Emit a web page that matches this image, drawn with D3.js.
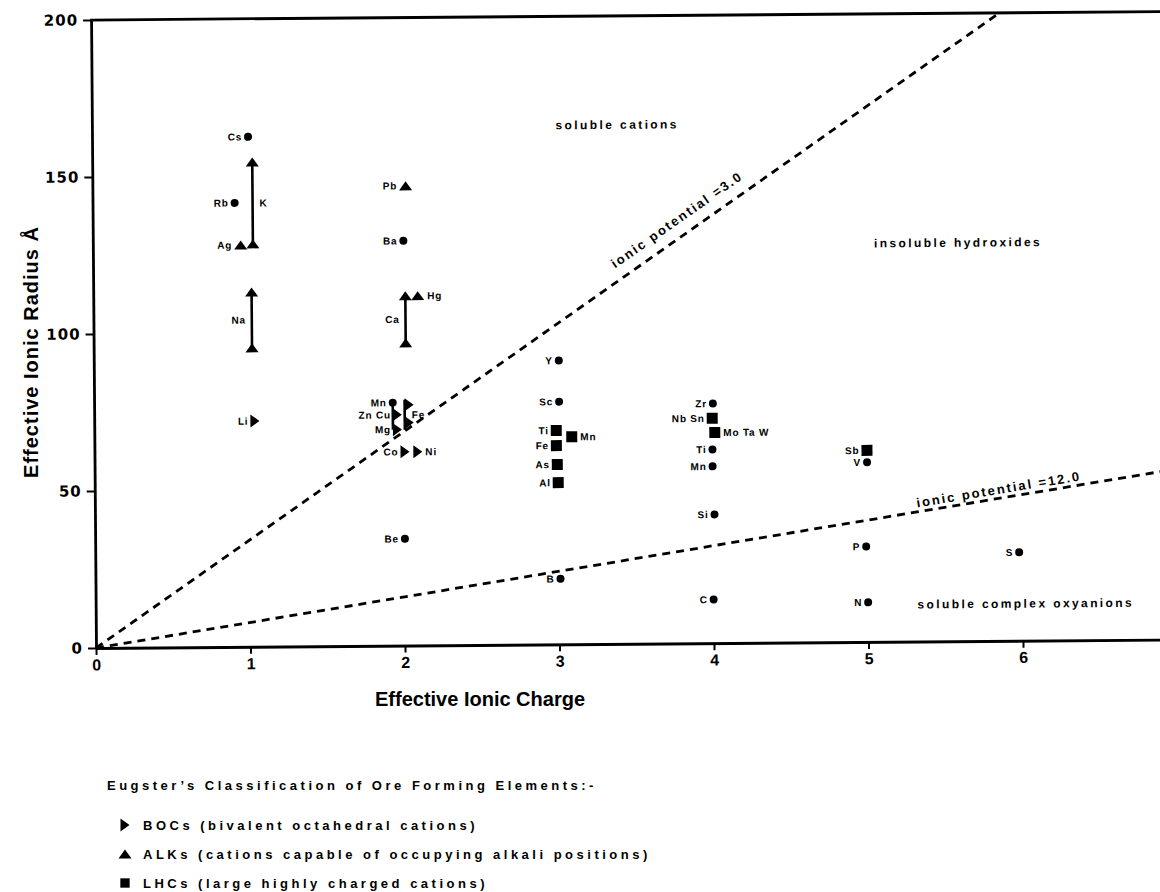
<!DOCTYPE html>
<html>
<head>
<meta charset="utf-8">
<script src="https://cdn.jsdelivr.net/npm/d3@7/dist/d3.min.js"></script>
<style>
  body { margin: 0; background: #fff; }
  svg { display: block; font-family: "Liberation Sans", Arial, sans-serif; font-weight: bold; }
  .el { font-size: 10px; letter-spacing: 0.8px; }
  .region { font-size: 12px; letter-spacing: 2.4px; }
  .ip-label { font-size: 13px; letter-spacing: 2px; }
  .ip { fill: none; stroke: #000; stroke-width: 2.8; stroke-dasharray: 8 6; }
  .axis .domain { stroke: #000; stroke-width: 2.8; }
  .axis .tick line { stroke: #000; stroke-width: 2; }
  .axis-y text { font-family: "DejaVu Sans", sans-serif; font-weight: bold; font-size: 15px; letter-spacing: 1px; }
  .axis-x text { font-family: "Liberation Sans", Arial, sans-serif; font-weight: bold; font-size: 16px; }
  .title { font-size: 20px; }
  .legend { font-size: 13px; letter-spacing: 3.5px; }
</style>
</head>
<body>
<svg id="chart" width="1160" height="892"></svg>
<script>
// ticks
const xTicks = [0, 1, 2, 3, 4, 5, 6];
const yTicks = [0, 50, 100, 150, 200];

// other cations, drawn as dots: charge q, radius r
const dots = [
  {el: "Cs", q: 1.01, r: 162.4}, {el: "Rb", q: 0.92, r: 141.4},
  {el: "Ba", q: 2.01, r: 128.9}, {el: "Mn", q: 1.933, r: 77.4},
  {el: "Be", q: 2.005, r: 34.0}, {el: "Y", q: 3.01, r: 90.4},
  {el: "Sc", q: 3.01, r: 77.3}, {el: "B", q: 3.01, r: 20.9},
  {el: "Zr", q: 4.005, r: 76.3}, {el: "Ti", q: 4.0, r: 61.7},
  {el: "Mn", q: 4.0, r: 56.3}, {el: "Si", q: 4.01, r: 41.0},
  {el: "C", q: 4.0, r: 13.9}, {el: "V", q: 5.0, r: 57.2},
  {el: "P", q: 4.99, r: 30.4}, {el: "N", q: 5.0, r: 12.6},
  {el: "S", q: 5.98, r: 28.2}
];

// BOCs (right triangles)
const bocs = [
  {el: "Li", q: 1.04, r: 71.9}, {el: "Zn Cu", q: 1.962, r: 73.5},
  {el: "Mg", q: 1.962, r: 68.8}, {el: "", q: 2.039, r: 76.7},
  {el: "", q: 2.039, r: 71.0}, {el: "Co", q: 2.01, r: 61.7},
  {el: "Ni", q: 2.093, r: 61.7}
];

// ALKs (up triangles)
const alks = [
  {el: "Ag", q: 0.957, r: 128.0}, {el: "Pb", q: 2.027, r: 146.4},
  {el: "Hg", q: 2.10, r: 111.4}
];

// ALK radius ranges (triangle at both ends)
const alkRanges = [
  {el: "K", q: 1.036, lo: 128.3, hi: 154.4},
  {el: "Na", q: 1.025, lo: 95.2, hi: 113.0},
  {el: "Ca", q: 2.02, lo: 96.4, hi: 111.4}
];

// plain range bars in the Mn / Fe cluster
const rangeBars = [
  {el: "", q: 1.933, lo: 68.8, hi: 77.4},
  {el: "Fe", q: 2.01, lo: 68.7, hi: 78.3}
];

// LHCs (squares)
const lhcs = [
  {el: "Ti", q: 2.99, r: 68.1}, {el: "Fe", q: 2.99, r: 63.3},
  {el: "Mn", q: 3.09, r: 66.1}, {el: "As", q: 2.995, r: 57.3},
  {el: "Al", q: 3.0, r: 51.5}, {el: "Nb Sn", q: 4.0, r: 71.6},
  {el: "Mo Ta W", q: 4.016, r: 67.1}, {el: "Sb", q: 5.0, r: 61.0}
];

// ionic potential lines [charge, radius]
const ip3 = [[0, 0], [5.88, 200]];
const ip12 = [[0, 0], [7, 54.3]];

const ipLabels = [
  {text: "ionic potential =3.0", q: 3.78, r: 135, line: ip3},
  {text: "ionic potential =12.0", q: 5.85, r: 48.3, line: ip12}
];

const regions = [
  {text: "soluble cations", q: 3.40, r: 165.4},
  {text: "insoluble hydroxides", q: 5.6, r: 127},
  {text: "soluble complex oxyanions", q: 6.02, r: 11.9}
];

const legendTitle = "Eugster\u2019s Classification of Ore Forming Elements:-";
const legendItems = [
  {sym: "boc", text: "BOCs (bivalent octahedral cations)"},
  {sym: "alk", text: "ALKs (cations capable of occupying alkali positions)"},
  {sym: "lhc", text: "LHCs (large highly charged cations)"}
];

// labels that sit to the right of their mark
const rightLabelled = {alk: ["Hg"], boc: ["Ni"], lhc: ["Mn", "Mo Ta W"], range: ["K", "Fe"]};

const svg = d3.select("#chart");
const x = d3.scaleLinear().domain([0, 7]).range([96, 1177.5]);
const y = d3.scaleLinear().domain([0, 200]).range([648, 20]);

// the scanned figure is slightly tilted
const plot = svg.append("g").attr("transform", `rotate(-0.45,${x(0)},${y(0)})`);

const shapes = {
  alk: "M0,-4.5L6.5,4.5L-6.5,4.5Z",
  boc: "M-4.5,-6.5L4.5,0L-4.5,6.5Z",
  lhc: "M-5.5,-5.5H5.5V5.5H-5.5Z"
};
const halfW = {dot: 4, alk: 6.5, boc: 4.5, lhc: 5.5};

// dashed lines
const line = d3.line().x(d => x(d[0])).y(d => y(d[1]));
plot.selectAll(".ip").data([ip3, ip12]).enter().append("path")
  .attr("class", "ip").attr("d", line);

// axes
plot.append("g").attr("class", "axis axis-y")
  .attr("transform", `translate(${x(0)},0)`)
  .call(d3.axisLeft(y).tickValues(yTicks).tickSize(8).tickSizeOuter(0).tickPadding(5));

plot.append("g").attr("class", "axis axis-x")
  .attr("transform", `translate(0,${y(0)})`)
  .call(d3.axisBottom(x).tickValues(xTicks).tickFormat(d3.format("d"))
    .tickSize(7).tickSizeOuter(0).tickPadding(4));

plot.append("line")
  .attr("x1", x(0) - 1).attr("x2", x(7))
  .attr("y1", y(200)).attr("y2", y(200))
  .attr("stroke", "#000").attr("stroke-width", 2.8);

// range bars
plot.selectAll(".bar").data(rangeBars.concat(alkRanges)).enter().append("line")
  .attr("x1", d => x(d.q)).attr("x2", d => x(d.q))
  .attr("y1", d => y(d.lo)).attr("y2", d => y(d.hi))
  .attr("stroke", "#000").attr("stroke-width", 2.6);

const alkEnds = alkRanges.flatMap(d => [{q: d.q, r: d.lo}, {q: d.q, r: d.hi}]);
plot.selectAll(".alkend").data(alkEnds).enter().append("path")
  .attr("d", shapes.alk)
  .attr("transform", d => `translate(${x(d.q)},${y(d.r)})`);

// markers
plot.selectAll(".dot").data(dots).enter().append("circle")
  .attr("cx", d => x(d.q)).attr("cy", d => y(d.r)).attr("r", halfW.dot);

[["alk", alks], ["boc", bocs], ["lhc", lhcs]].forEach(([kind, rows]) => {
  plot.selectAll(".m-" + kind).data(rows).enter().append("path")
    .attr("d", shapes[kind])
    .attr("transform", d => `translate(${x(d.q)},${y(d.r)})`);
});

// element labels
function addLabels(kind, rows, hw) {
  const right = rightLabelled[kind] || [];
  plot.append("g").selectAll("text").data(rows.filter(d => d.el)).enter().append("text")
    .attr("class", "el")
    .attr("x", d => right.includes(d.el) ? x(d.q) + hw + 3 : x(d.q) - hw - 2)
    .attr("y", d => y(d.r != null ? d.r : (d.lo + d.hi) / 2))
    .attr("dy", "0.36em")
    .attr("text-anchor", d => right.includes(d.el) ? "start" : "end")
    .text(d => d.el);
}
addLabels("dot", dots, halfW.dot);
addLabels("alk", alks, halfW.alk);
addLabels("boc", bocs, halfW.boc);
addLabels("lhc", lhcs, halfW.lhc);
addLabels("range", alkRanges.concat(rangeBars), 4);

// region labels
plot.selectAll(".region").data(regions).enter().append("text")
  .attr("class", "region")
  .attr("x", d => x(d.q)).attr("y", d => y(d.r))
  .attr("dy", "0.36em").attr("text-anchor", "middle")
  .text(d => d.text);

// ionic potential labels, along their line
plot.selectAll(".ip-label").data(ipLabels).enter().append("text")
  .attr("class", "ip-label")
  .attr("text-anchor", "middle").attr("dy", "0.36em")
  .attr("transform", d => {
    const [a, b] = d.line;
    const ang = Math.atan2(y(b[1]) - y(a[1]), x(b[0]) - x(a[0])) * 180 / Math.PI;
    return `translate(${x(d.q)},${y(d.r)}) rotate(${ang})`;
  })
  .text(d => d.text);

// axis titles
svg.append("text").attr("class", "title")
  .attr("x", 480).attr("y", 706).attr("text-anchor", "middle")
  .text("Effective Ionic Charge");

svg.append("text").attr("class", "title")
  .attr("transform", "translate(38,352) rotate(-90)")
  .attr("text-anchor", "middle").style("letter-spacing", "1px")
  .text("Effective Ionic Radius \u00C5");

// legend
svg.append("text").attr("class", "legend")
  .attr("x", 107).attr("y", 790).text(legendTitle);

const leg = svg.selectAll(".leg").data(legendItems).enter().append("g")
  .attr("transform", (d, i) => `translate(125,${825 + i * 29})`);
leg.append("path").attr("d", d => shapes[d.sym])
  .attr("transform", d => d.sym === "lhc" ? "scale(0.85)" : null);
leg.append("text").attr("class", "legend")
  .attr("x", 18).attr("dy", "0.36em").text(d => d.text);
</script>
</body>
</html>
